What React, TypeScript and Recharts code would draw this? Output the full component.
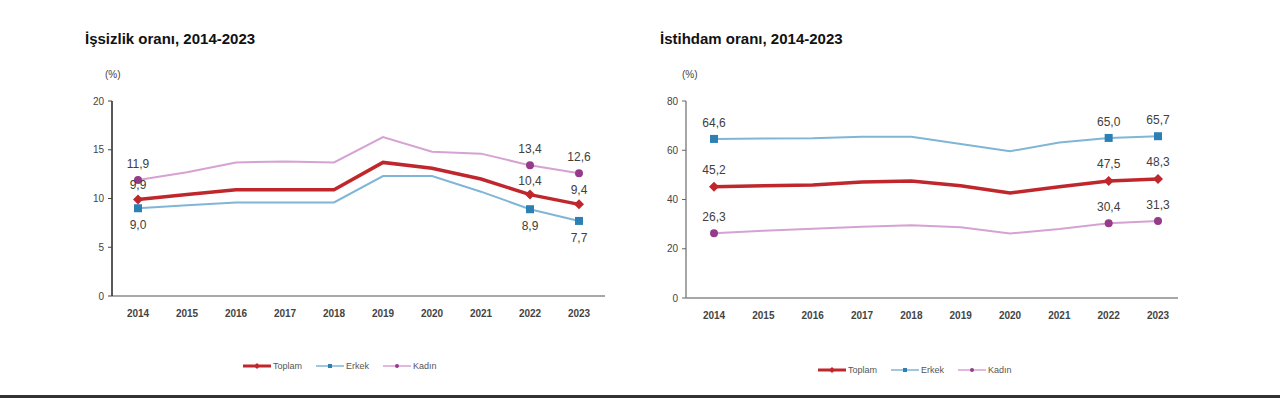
import React from "react"
import { LineChart, Line, XAxis, YAxis } from "recharts"

const years = ["2014", "2015", "2016", "2017", "2018", "2019", "2020", "2021", "2022", "2023"]

// İşsizlik oranı
const issizToplam = [9.9, 10.4, 10.9, 10.9, 10.9, 13.7, 13.1, 12.0, 10.4, 9.4]
const issizErkek = [9.0, 9.3, 9.6, 9.6, 9.6, 12.3, 12.3, 10.7, 8.9, 7.7]
const issizKadin = [11.9, 12.7, 13.7, 13.8, 13.7, 16.3, 14.8, 14.6, 13.4, 12.6]

// İstihdam oranı
const istToplam = [45.2, 45.6, 45.9, 47.1, 47.5, 45.6, 42.6, 45.2, 47.5, 48.3]
const istErkek = [64.6, 64.8, 64.9, 65.5, 65.5, 62.5, 59.6, 63.1, 65.0, 65.7]
const istKadin = [26.3, 27.3, 28.1, 28.9, 29.5, 28.7, 26.2, 28.0, 30.4, 31.3]

const issizTicks = [0, 5, 10, 15, 20]
const istTicks = [0, 20, 40, 60, 80]
const markedIdx = [0, 8, 9]

const RED = "#c0272d"
const BLUE_LINE = "#7fb6d6"
const BLUE_MARK = "#2c80b4"
const PINK_LINE = "#d6a2d2"
const PURPLE_MARK = "#963a8a"
const FONT = "'Liberation Sans', Arial, sans-serif"

const issizData = years.map((y, i) => ({ year: y, toplam: issizToplam[i], erkek: issizErkek[i], kadin: issizKadin[i] }))
const istData = years.map((y, i) => ({ year: y, toplam: istToplam[i], erkek: istErkek[i], kadin: istKadin[i] }))

const fmt = (v: number) => v.toFixed(1).replace(".", ",")

function makeDot(kind: "diamond" | "square" | "circle", color: string) {
  return (p: any) => {
    const { cx, cy, index } = p
    if (!markedIdx.includes(index)) return <g key={`d-${kind}-${index}`} />
    if (kind === "diamond")
      return (
        <path
          key={`d-${kind}-${index}`}
          d={`M${cx},${cy - 5} L${cx + 5},${cy} L${cx},${cy + 5} L${cx - 5},${cy} Z`}
          fill={color}
        />
      )
    if (kind === "square")
      return <rect key={`d-${kind}-${index}`} x={cx - 4} y={cy - 4} width={8} height={8} fill={color} />
    return <circle key={`d-${kind}-${index}`} cx={cx} cy={cy} r={4} fill={color} />
  }
}

function makeLabel(dy: number) {
  return (p: any) => {
    const { x, y, index, value } = p
    if (!markedIdx.includes(index)) return <g key={`l-${index}`} />
    return (
      <text
        key={`l-${index}`}
        x={x}
        y={y + dy}
        textAnchor="middle"
        dominantBaseline="central"
        fontSize={12}
        fontFamily={FONT}
        fill="#404040"
      >
        {fmt(value)}
      </text>
    )
  }
}

function LegendRow({ left, top }: { left: number; top: number }) {
  const item = (label: string, color: string, width: number, mark: React.ReactNode) => (
    <div style={{ display: "flex", alignItems: "center", marginRight: 14 }}>
      <svg width={28} height={8}>
        <line x1={0} y1={4} x2={28} y2={4} stroke={color} strokeWidth={width} />
        {mark}
      </svg>
      <span style={{ marginLeft: 2 }}>{label}</span>
    </div>
  )
  return (
    <div
      style={{
        position: "absolute",
        left,
        top,
        display: "flex",
        fontFamily: FONT,
        fontSize: 9,
        color: "#555",
      }}
    >
      {item("Toplam", RED, 3, <path d="M14,1 L17,4 L14,7 L11,4 Z" fill={RED} />)}
      {item("Erkek", BLUE_LINE, 1.5, <rect x={12} y={2} width={4} height={4} fill={BLUE_MARK} />)}
      {item("Kadın", PINK_LINE, 1.5, <circle cx={14} cy={4} r={2} fill={PURPLE_MARK} />)}
    </div>
  )
}

const yTickStyle = { fontSize: 10, fill: "#444", fontFamily: FONT }
const xTickStyle = { fontSize: 10, fill: "#444", fontFamily: FONT, fontWeight: 700 }

export default function App() {
  return (
    <div
      style={{
        position: "fixed",
        left: 0,
        top: 0,
        width: 1280,
        height: 398,
        background: "#fff",
        overflow: "hidden",
        fontFamily: FONT,
      }}
    >
      <div style={{ position: "absolute", left: 85, top: 30, fontSize: 15, fontWeight: 700, color: "#111" }}>
        İşsizlik oranı, 2014-2023
      </div>
      <div style={{ position: "absolute", left: 105, top: 69, fontSize: 10, color: "#444" }}>(%)</div>
      <div style={{ position: "absolute", left: 660, top: 30, fontSize: 15, fontWeight: 700, color: "#111" }}>
        İstihdam oranı, 2014-2023
      </div>
      <div style={{ position: "absolute", left: 682, top: 69, fontSize: 10, color: "#444" }}>(%)</div>

      <div style={{ position: "absolute", left: 0, top: 0 }}>
        <LineChart width={640} height={398} data={issizData} margin={{ top: 101, right: 35, bottom: 72, left: 0 }}>
          <XAxis
            dataKey="year"
            padding={{ left: 26, right: 26 }}
            tickLine={false}
            axisLine={{ stroke: "#a8a8a8", strokeWidth: 2 }}
            tick={xTickStyle}
            tickMargin={8}
            height={30}
            interval={0}
          />
          <YAxis
            width={112}
            domain={[0, 20]}
            ticks={issizTicks}
            tick={yTickStyle}
            tickSize={4}
            tickMargin={4}
            axisLine={{ stroke: "#222", strokeWidth: 1.5 }}
            tickLine={{ stroke: "#444" }}
          />
          <Line
            dataKey="kadin"
            stroke={PINK_LINE}
            strokeWidth={2}
            type="linear"
            dot={makeDot("circle", PURPLE_MARK)}
            label={makeLabel(-16)}
            isAnimationActive={false}
          />
          <Line
            dataKey="erkek"
            stroke={BLUE_LINE}
            strokeWidth={2}
            type="linear"
            dot={makeDot("square", BLUE_MARK)}
            label={makeLabel(17)}
            isAnimationActive={false}
          />
          <Line
            dataKey="toplam"
            stroke={RED}
            strokeWidth={3.5}
            type="linear"
            dot={makeDot("diamond", RED)}
            label={makeLabel(-14)}
            isAnimationActive={false}
          />
        </LineChart>
      </div>

      <div style={{ position: "absolute", left: 640, top: 0 }}>
        <LineChart width={640} height={398} data={istData} margin={{ top: 101, right: 102, bottom: 70, left: 0 }}>
          <XAxis
            dataKey="year"
            padding={{ left: 28, right: 20 }}
            tickLine={false}
            axisLine={{ stroke: "#a8a8a8", strokeWidth: 2 }}
            tick={xTickStyle}
            tickMargin={8}
            height={30}
            interval={0}
          />
          <YAxis
            width={46}
            domain={[0, 80]}
            ticks={istTicks}
            tick={yTickStyle}
            tickSize={4}
            tickMargin={4}
            axisLine={{ stroke: "#888", strokeWidth: 1.5 }}
            tickLine={{ stroke: "#666" }}
          />
          <Line
            dataKey="kadin"
            stroke={PINK_LINE}
            strokeWidth={2}
            type="linear"
            dot={makeDot("circle", PURPLE_MARK)}
            label={makeLabel(-16)}
            isAnimationActive={false}
          />
          <Line
            dataKey="erkek"
            stroke={BLUE_LINE}
            strokeWidth={2}
            type="linear"
            dot={makeDot("square", BLUE_MARK)}
            label={makeLabel(-16)}
            isAnimationActive={false}
          />
          <Line
            dataKey="toplam"
            stroke={RED}
            strokeWidth={3.5}
            type="linear"
            dot={makeDot("diamond", RED)}
            label={makeLabel(-17)}
            isAnimationActive={false}
          />
        </LineChart>
      </div>

      <LegendRow left={243} top={361} />
      <LegendRow left={818} top={365} />

      <div style={{ position: "absolute", left: 0, top: 395, width: 1280, height: 3, background: "#333" }} />
    </div>
  )
}
